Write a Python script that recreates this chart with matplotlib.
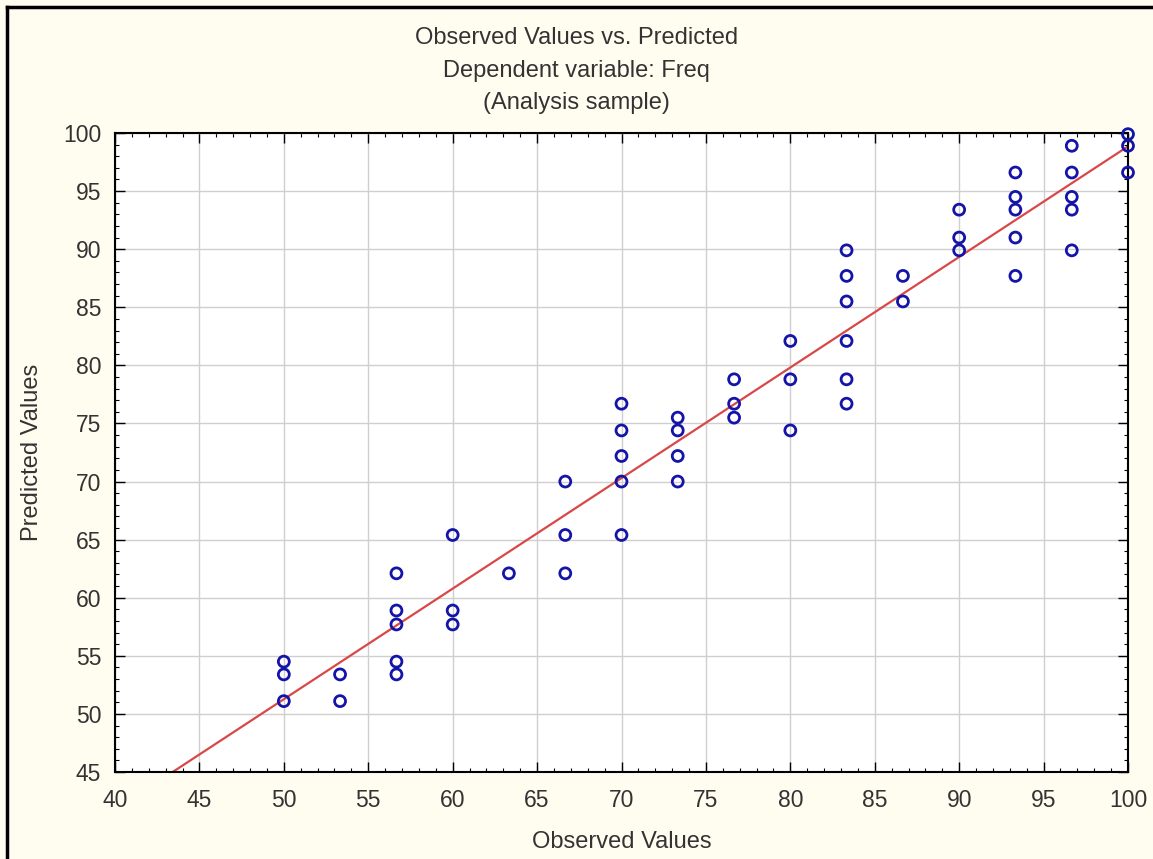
import numpy as np
import matplotlib
matplotlib.use('Agg')
import matplotlib.pyplot as plt
from matplotlib.ticker import MultipleLocator

plt.rcParams['font.family'] = ['Liberation Sans', 'DejaVu Sans']

# observed (x) and predicted (y) values
observed = [50, 50, 50,
            53.33, 53.33,
            56.67, 56.67, 56.67, 56.67, 56.67,
            60, 60, 60,
            63.33,
            66.67, 66.67, 66.67,
            70, 70, 70, 70, 70,
            73.33, 73.33, 73.33, 73.33,
            76.67, 76.67, 76.67,
            80, 80, 80,
            83.33, 83.33, 83.33, 83.33, 83.33, 83.33,
            86.67, 86.67,
            90, 90, 90,
            93.33, 93.33, 93.33, 93.33, 93.33,
            96.67, 96.67, 96.67, 96.67, 96.67,
            100, 100, 100]
predicted = [54.5, 53.4, 51.1,
             53.4, 51.1,
             62.1, 58.9, 57.7, 54.5, 53.4,
             65.4, 58.9, 57.7,
             62.1,
             70.0, 65.4, 62.1,
             76.7, 74.4, 72.2, 70.0, 65.4,
             75.5, 74.4, 72.2, 70.0,
             78.8, 76.7, 75.5,
             82.1, 78.8, 74.4,
             89.9, 87.7, 85.5, 82.1, 78.8, 76.7,
             87.7, 85.5,
             93.4, 91.0, 89.9,
             96.6, 94.5, 93.4, 91.0, 87.7,
             98.9, 96.6, 94.5, 93.4, 89.9,
             99.9, 98.9, 96.6]

x_ticks = list(range(40, 101, 5))
y_ticks = list(range(45, 101, 5))

fig = plt.figure(figsize=(11.53, 8.59), dpi=100)
fig.patch.set_facecolor('#fffcf0')
ax = fig.add_axes([115 / 1153, 1 - 772 / 859, (1128 - 115) / 1153, (772 - 133) / 859])
ax.set_facecolor('white')

# frame lines on left/top of the window
fig.add_artist(plt.Line2D([7 / 1153, 7 / 1153], [0, 1 - 7 / 859], color='black', lw=2.5,
                          transform=fig.transFigure))
fig.add_artist(plt.Line2D([7 / 1153, 1], [1 - 7 / 859, 1 - 7 / 859], color='black', lw=2.5,
                          transform=fig.transFigure))

ax.set_xlim(40, 100)
ax.set_ylim(45, 100)
ax.set_xticks(x_ticks)
ax.set_yticks(y_ticks)
ax.xaxis.set_minor_locator(MultipleLocator(1))
ax.yaxis.set_minor_locator(MultipleLocator(1))
ax.grid(True, which='major', color='#cfcfcf', lw=1)
ax.set_axisbelow(True)
ax.tick_params(which='both', direction='in', top=True, right=True, colors='black',
               labelcolor='#333333', labelsize=16.5)
ax.tick_params(which='major', length=7, width=1)
ax.tick_params(axis='x', which='major', pad=12)
ax.tick_params(axis='y', which='major', pad=10)
ax.tick_params(which='minor', length=3, width=0.8)
for s in ax.spines.values():
    s.set_linewidth(1.5)

# regression line
slope, intercept = np.polyfit(observed, predicted, 1)
xl = np.array([40, 100])
ax.plot(xl, intercept + slope * xl, color='#d84848', lw=1.6, zorder=2, clip_on=True)

ax.scatter(observed, predicted, s=62, facecolors='none', edgecolors='#1414a8',
           linewidths=2, zorder=3, clip_on=False)

fig.text(0.5, 1 - 38 / 859, 'Observed Values vs. Predicted', ha='center', va='center',
         fontsize=17, color='#333333')
fig.text(0.5, 1 - 71 / 859, 'Dependent variable: Freq', ha='center', va='center',
         fontsize=17, color='#333333')
fig.text(0.5, 1 - 103 / 859, '(Analysis sample)', ha='center', va='center',
         fontsize=17, color='#333333')

ax.set_xlabel('Observed Values', fontsize=17, color='#333333', labelpad=14)
ax.set_ylabel('Predicted Values', fontsize=17, color='#333333', labelpad=14)

fig.savefig('out.png', dpi=100, facecolor=fig.get_facecolor())
